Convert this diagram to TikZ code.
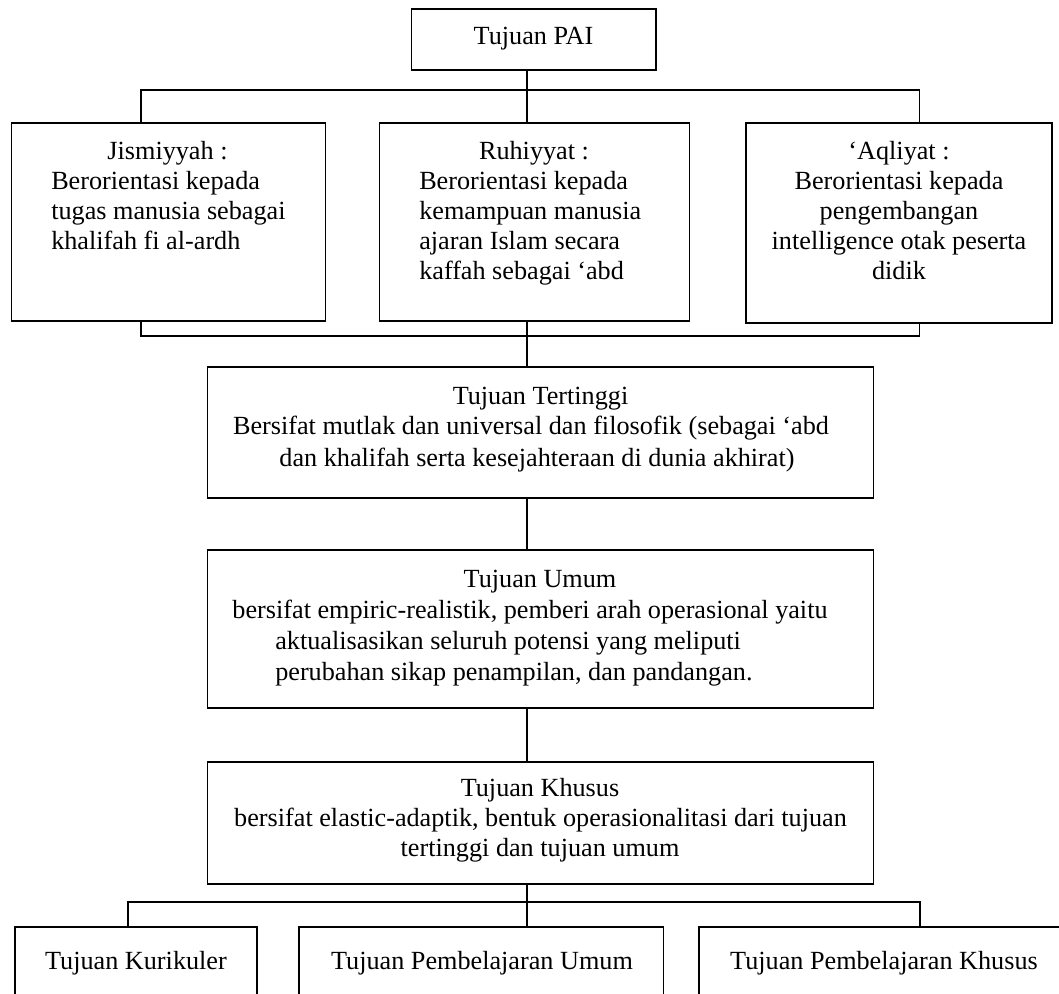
\documentclass[tikz,border=0pt]{standalone}
\usepackage{fontspec}
\setmainfont{Liberation Serif}
\usetikzlibrary{fit}
\begin{document}
\begin{tikzpicture}[x=0.75pt,y=-0.75pt,
  box/.style={draw=black, line width=1.35pt, inner sep=0pt, rectangle},
  lbl/.style={inner sep=0pt, font=\fontsize{19.65pt}{23pt}\selectfont},
  link/.style={draw=black, line width=1.15pt}]

\useasboundingbox (0,0) rectangle (1059,994);
\fill[white] (0,0) rectangle (1059,994);
\clip (0,0) rectangle (1059,994);

% ---- boxes ----
\node[box, fit={(411.5,9) (656,70)}] (pai) {};
\node[box, fit={(11.5,123) (325.5,321)}] (jis) {};
\node[box, fit={(379.5,123) (689.5,321)}] (ruh) {};
\node[box, fit={(746,123) (1052,323)}] (aql) {};
\node[box, fit={(207.5,367) (873.5,498)}] (ting) {};
\node[box, fit={(207.5,550) (873.5,708)}] (umum) {};
\node[box, fit={(207.5,762) (873.5,884)}] (khu) {};
\node[box, fit={(15,927) (257,1010)}] (kur) {};
\node[box, fit={(299,927) (663.5,1010)}] (pu) {};
\node[box, fit={(699,927) (1069,1010)}] (pk) {};

% ---- texts ----
\node[lbl, anchor=base] (pai-t) at (533.5,45) {Tujuan PAI};

\node[lbl, anchor=base] (jis-t) at (167.5,160) {Jismiyyah :};
\node[lbl, anchor=base west] (jis-1) at (51,189.5) {Berorientasi kepada};
\node[lbl, anchor=base west] (jis-2) at (51,219.5) {tugas manusia sebagai};
\node[lbl, anchor=base west] (jis-3) at (51,249.5) {khalifah fi al-ardh};

\node[lbl, anchor=base] (ruh-t) at (534,160) {Ruhiyyat :};
\node[lbl, anchor=base west] (ruh-1) at (419,189.5) {Berorientasi kepada};
\node[lbl, anchor=base west] (ruh-2) at (419,219.5) {kemampuan manusia};
\node[lbl, anchor=base west] (ruh-3) at (419,249.5) {ajaran Islam secara};
\node[lbl, anchor=base west] (ruh-4) at (419,279.5) {kaffah sebagai ‘abd};

\node[lbl, anchor=base] (aql-t) at (899,160) {‘Aqliyat :};
\node[lbl, anchor=base] (aql-1) at (899,189.5) {Berorientasi kepada};
\node[lbl, anchor=base] (aql-2) at (899,219.5) {pengembangan};
\node[lbl, anchor=base] (aql-3) at (899,249.5) {intelligence otak peserta};
\node[lbl, anchor=base] (aql-4) at (899,279.5) {didik};

\node[lbl, anchor=base] (ting-t) at (540.5,404) {Tujuan Tertinggi};
\node[lbl, anchor=base] (ting-1) at (531,435) {Bersifat mutlak dan universal dan filosofik (sebagai ‘abd};
\node[lbl, anchor=base] (ting-2) at (537,466) {dan khalifah serta kesejahteraan di dunia akhirat)};

\node[lbl, anchor=base] (umum-t) at (540,587) {Tujuan Umum};
\node[lbl, anchor=base] (umum-1) at (530,618) {bersifat empiric-realistik, pemberi arah operasional yaitu};
\node[lbl, anchor=base west] (umum-2) at (275,649) {aktualisasikan seluruh potensi yang meliputi};
\node[lbl, anchor=base west] (umum-3) at (275,680) {perubahan sikap penampilan, dan pandangan.};

\node[lbl, anchor=base] (khu-t) at (540,796) {Tujuan Khusus};
\node[lbl, anchor=base] (khu-1) at (540.5,826) {bersifat elastic-adaptik, bentuk operasionalitasi dari tujuan};
\node[lbl, anchor=base] (khu-2) at (540,856) {tertinggi dan tujuan umum};

\node[lbl, anchor=base] (kur-t) at (136,969) {Tujuan Kurikuler};
\node[lbl, anchor=base] (pu-t) at (482,969) {Tujuan Pembelajaran Umum};
\node[lbl, anchor=base] (pk-t) at (884,969) {Tujuan Pembelajaran Khusus};

% ---- connectors ----
\coordinate (top-l) at (141,90);
\coordinate (top-c) at (527,90);
\coordinate (top-r) at (919.5,90);
\draw[link] (top-c |- pai.south) -- (top-c);
\draw[link] (top-l |- jis.north) -- (top-l) -- (top-r) -- (top-r |- aql.north);
\draw[link] (top-c) -- (top-c |- ruh.north);

\coordinate (mid-l) at (141,336);
\coordinate (mid-c) at (527,336);
\coordinate (mid-r) at (919.5,336);
\draw[link] (mid-l |- jis.south) -- (mid-l) -- (mid-r) -- (mid-r |- aql.south);
\draw[link] (mid-c |- ruh.south) -- (mid-c |- ting.north);
\draw[link] (mid-c |- ting.south) -- (mid-c |- umum.north);
\draw[link] (mid-c |- umum.south) -- (mid-c |- khu.north);

\coordinate (low-l) at (128,902);
\coordinate (low-c) at (527,902);
\coordinate (low-r) at (920,902);
\draw[link] (low-c |- khu.south) -- (low-c |- pu.north);
\draw[link] (low-l |- kur.north) -- (low-l) -- (low-r) -- (low-r |- pk.north);
\end{tikzpicture}
\end{document}
